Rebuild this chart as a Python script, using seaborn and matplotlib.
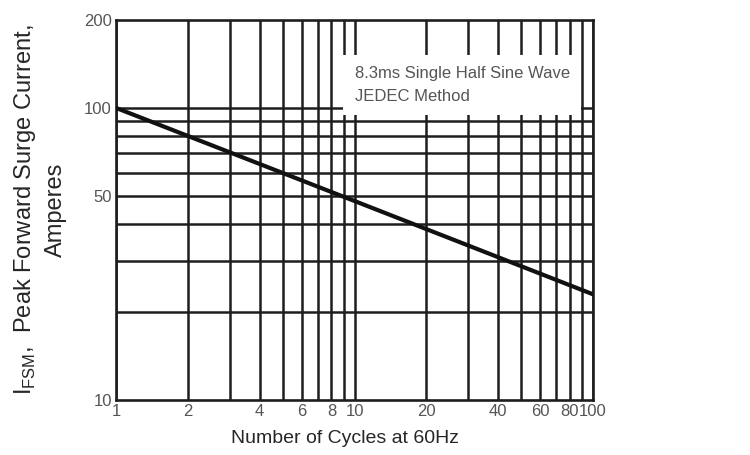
import numpy as np
import pandas as pd
import seaborn as sns
import matplotlib.pyplot as plt
from matplotlib import font_manager

# values
cycles = [1, 10, 100]
surge_amps = [100, 48, 23]

# tick labels shown on the axes
x_ticks = [1, 2, 4, 6, 8, 10, 20, 40, 60, 80, 100]
y_ticks = [10, 50, 100, 200]

# grid lines drawn in the chart
x_grid = [1, 2, 3, 4, 5, 6, 7, 8, 9, 10, 20, 30, 40, 50, 60, 70, 80, 90, 100]
y_grid = [20, 30, 40, 50, 60, 70, 80, 90, 100]

sns.set_style("white")
plt.rcParams['font.family'] = ['Liberation Sans', 'DejaVu Sans']

names = {f.name for f in font_manager.fontManager.ttflist}
narrow = 'Liberation Sans Narrow' if 'Liberation Sans Narrow' in names else 'Liberation Sans'
small_size = 14 if narrow == 'Liberation Sans Narrow' else 12

df = pd.DataFrame({"cycles": cycles, "amps": surge_amps})

fig = plt.figure(figsize=(7.5, 4.55), dpi=100)
ax = fig.add_axes([0.1547, 0.121, 0.636, 0.835])
ax.set_xscale("log")
ax.set_yscale("log")

grid_col = "#1e1e1e"
for xv in x_grid:
    ax.axvline(xv, color=grid_col, lw=1.8, zorder=1)
for yv in y_grid:
    ax.axhline(yv, color=grid_col, lw=1.8, zorder=1)

sns.lineplot(data=df, x="cycles", y="amps", color="#111111", lw=3, ax=ax, zorder=3)

ax.set_xlim(1, 100)
ax.set_ylim(10, 200)
ax.set_xticks(x_ticks)
ax.set_xticklabels([str(v) for v in x_ticks])
ax.set_yticks(y_ticks)
ax.set_yticklabels([str(v) for v in y_ticks])
ax.minorticks_off()
ax.tick_params(length=0, labelcolor="#555555", pad=3)
for lab in ax.get_xticklabels() + ax.get_yticklabels():
    lab.set_fontfamily(narrow)
    lab.set_fontsize(small_size)

for s in ax.spines.values():
    s.set_color(grid_col)
    s.set_linewidth(1.9)
    s.set_visible(True)

ax.set_xlabel("Number of Cycles at 60Hz", fontsize=14)
ax.xaxis.set_label_coords(0.481, -0.078)
ax.set_ylabel("I$_{\\mathregular{FSM}}$,  Peak Forward Surge Current,\nAmperes",
              fontsize=17, labelpad=12, linespacing=1.45)

ax.text(0.5, 0.878, "8.3ms Single Half Sine Wave\nJEDEC Method",
        transform=ax.transAxes, ha="left", va="top", fontsize=small_size,
        fontfamily=narrow, color="#555555", linespacing=1.65, zorder=4,
        bbox=dict(facecolor="white", edgecolor="none", pad=8))

fig.savefig("out.png", dpi=100)
